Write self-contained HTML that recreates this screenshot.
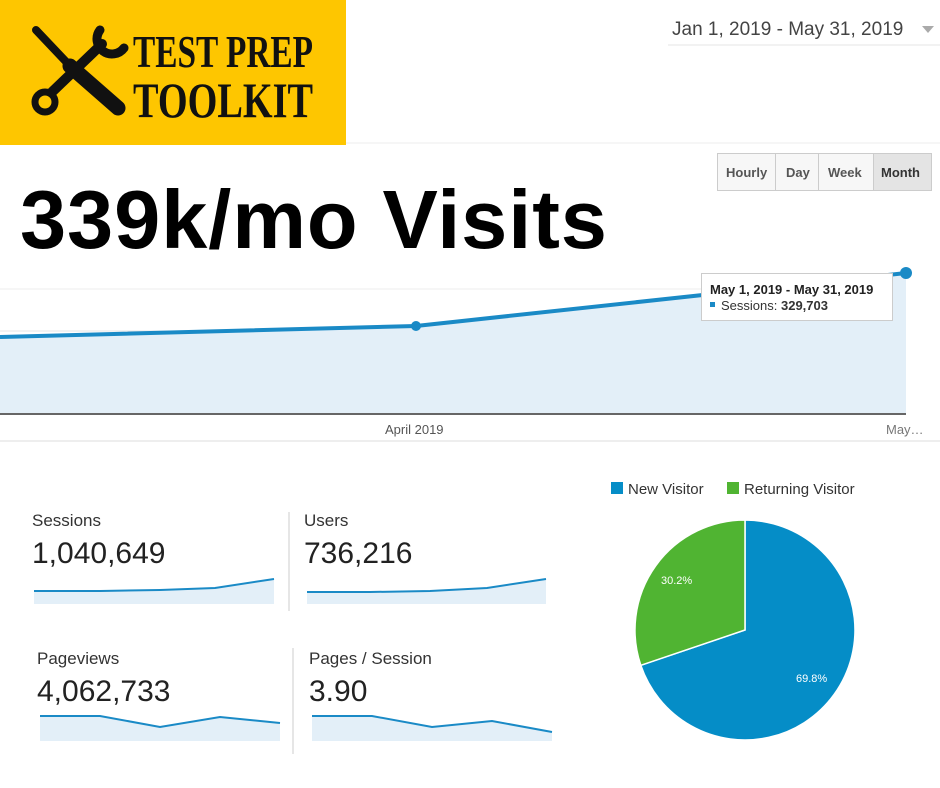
<!DOCTYPE html>
<html><head><meta charset="utf-8"><style>
html,body{margin:0;padding:0;background:#fff;}
body{width:940px;height:788px;position:relative;overflow:hidden;font-family:"Liberation Sans",Arial,sans-serif;}
.a{position:absolute;white-space:nowrap;}
</style></head><body>
<svg class="a" style="left:0;top:0" width="940" height="788" viewBox="0 0 940 788">
  <rect x="0" y="0" width="346" height="145" fill="#FEC600"/>
  <g stroke="#111" stroke-linecap="round" fill="none">
    <line x1="36" y1="30" x2="72" y2="68" stroke-width="8"/>
    <line x1="70" y1="66" x2="118" y2="108" stroke-width="15"/>
    <line x1="52" y1="92" x2="102" y2="44" stroke-width="10"/>
    <circle cx="45" cy="102" r="10" stroke-width="7"/>
    <path d="M100 30 A14 14 0 1 0 124 48" stroke-width="9"/>
  </g>
  <text x="133" y="67" font-family="Liberation Serif" font-weight="bold" font-size="46" fill="#111" textLength="180" lengthAdjust="spacingAndGlyphs">TEST PREP</text>
  <text x="133" y="117" font-family="Liberation Serif" font-weight="bold" font-size="50" fill="#111" textLength="180" lengthAdjust="spacingAndGlyphs">TOOLKIT</text>
  <text x="672" y="35" font-size="19" fill="#444">Jan 1, 2019 - May 31, 2019</text>
  <path d="M922 26 L934 26 L928 33 Z" fill="#aaa"/>
  <line x1="668" y1="45" x2="940" y2="45" stroke="#e6e6e6"/>
  <line x1="346" y1="143" x2="940" y2="143" stroke="#eee"/>
  <rect x="717.5" y="153.5" width="214" height="37" fill="#f7f7f7" stroke="#ccc"/>
  <rect x="873" y="154" width="58" height="36" fill="#e4e4e4"/>
  <line x1="775.5" y1="154" x2="775.5" y2="190" stroke="#ccc"/>
  <line x1="818.5" y1="154" x2="818.5" y2="190" stroke="#ccc"/>
  <line x1="873.5" y1="154" x2="873.5" y2="190" stroke="#ccc"/>
  <g font-size="13" font-weight="bold" fill="#555">
    <text x="726" y="177">Hourly</text><text x="786" y="177">Day</text><text x="828" y="177">Week</text><text x="881" y="177" fill="#333">Month</text>
  </g>
  <line x1="0" y1="289" x2="906" y2="289" stroke="#eee"/>
  <line x1="0" y1="331" x2="906" y2="331" stroke="#e4e4e4"/>
  <line x1="0" y1="372" x2="906" y2="372" stroke="#e4e4e4"/>
  <path d="M0 337 L416 326 L906 273 L906 414 L0 414 Z" fill="#e3eff8"/>
  <polyline points="0,337 416,326 906,273" fill="none" stroke="#1a8ac6" stroke-width="4"/>
  <circle cx="416" cy="326" r="5" fill="#1a8ac6"/>
  <circle cx="906" cy="273" r="6" fill="#1a8ac6"/>
  <line x1="0" y1="414" x2="906" y2="414" stroke="#666" stroke-width="2"/>
  <line x1="0" y1="441" x2="940" y2="441" stroke="#ddd"/>
  <text x="385" y="434" font-size="13" fill="#555">April 2019</text>
  <text x="886" y="434" font-size="13" fill="#777">May…</text>
  <rect x="701.5" y="273.5" width="191" height="47" fill="#fff" stroke="#ccc"/>
  <text x="710" y="294" font-size="13" font-weight="bold" fill="#222">May 1, 2019 - May 31, 2019</text>
  <rect x="710" y="302" width="5" height="5" fill="#1a8ac6"/>
  <text x="721" y="310" font-size="13" fill="#333">Sessions: <tspan font-weight="bold">329,703</tspan></text>
  <line x1="289" y1="512" x2="289" y2="611" stroke="#ccc"/>
  <line x1="293" y1="648" x2="293" y2="754" stroke="#ccc"/>
  <g fill="#e3eff8">
    <path d="M34 591 L100 591 L160 590 L215 588 L274 579 L274 604 L34 604Z"/>
    <path d="M307 592 L370 592 L430 591 L487 588 L546 579 L546 604 L307 604Z"/>
    <path d="M40 716 L100 716 L160 727 L220 717 L280 723 L280 741 L40 741Z"/>
    <path d="M312 716 L372 716 L432 727 L492 721 L552 732 L552 741 L312 741Z"/>
  </g>
  <g fill="none" stroke="#1a8ac6" stroke-width="2">
    <polyline points="34,591 100,591 160,590 215,588 274,579"/>
    <polyline points="307,592 370,592 430,591 487,588 546,579"/>
    <polyline points="40,716 100,716 160,727 220,717 280,723"/>
    <polyline points="312,716 372,716 432,727 492,721 552,732"/>
  </g>
  <rect x="611" y="482" width="12" height="12" fill="#058dc7"/>
  <text x="628" y="494" font-size="15" fill="#333">New Visitor</text>
  <rect x="727" y="482" width="12" height="12" fill="#50b432"/>
  <text x="744" y="494" font-size="15" fill="#333">Returning Visitor</text>
  <path d="M745 630 L745 520 A110 110 0 1 1 640.8 665.3 Z" fill="#058dc7" stroke="#fff" stroke-width="1.5"/>
  <path d="M745 630 L640.8 665.3 A110 110 0 0 1 745 520 Z" fill="#50b432" stroke="#fff" stroke-width="1.5"/>
  <text x="661" y="584" font-size="11" fill="#fff">30.2%</text>
  <text x="796" y="682" font-size="11" fill="#fff">69.8%</text>
</svg>
<div class="a" style="left:20px;top:172px;font-size:83px;font-weight:bold;color:#000;letter-spacing:0.9px">339k/mo Visits</div>
<div class="a" style="left:32px;top:511px;font-size:17px;color:#333">Sessions</div>
<div class="a" style="left:32px;top:537px;font-size:30px;color:#222">1,040,649</div>
<div class="a" style="left:304px;top:511px;font-size:17px;color:#333">Users</div>
<div class="a" style="left:304px;top:537px;font-size:30px;color:#222">736,216</div>
<div class="a" style="left:37px;top:649px;font-size:17px;color:#333">Pageviews</div>
<div class="a" style="left:37px;top:675px;font-size:30px;color:#222">4,062,733</div>
<div class="a" style="left:309px;top:649px;font-size:17px;color:#333">Pages / Session</div>
<div class="a" style="left:309px;top:675px;font-size:30px;color:#222">3.90</div>
</body></html>
